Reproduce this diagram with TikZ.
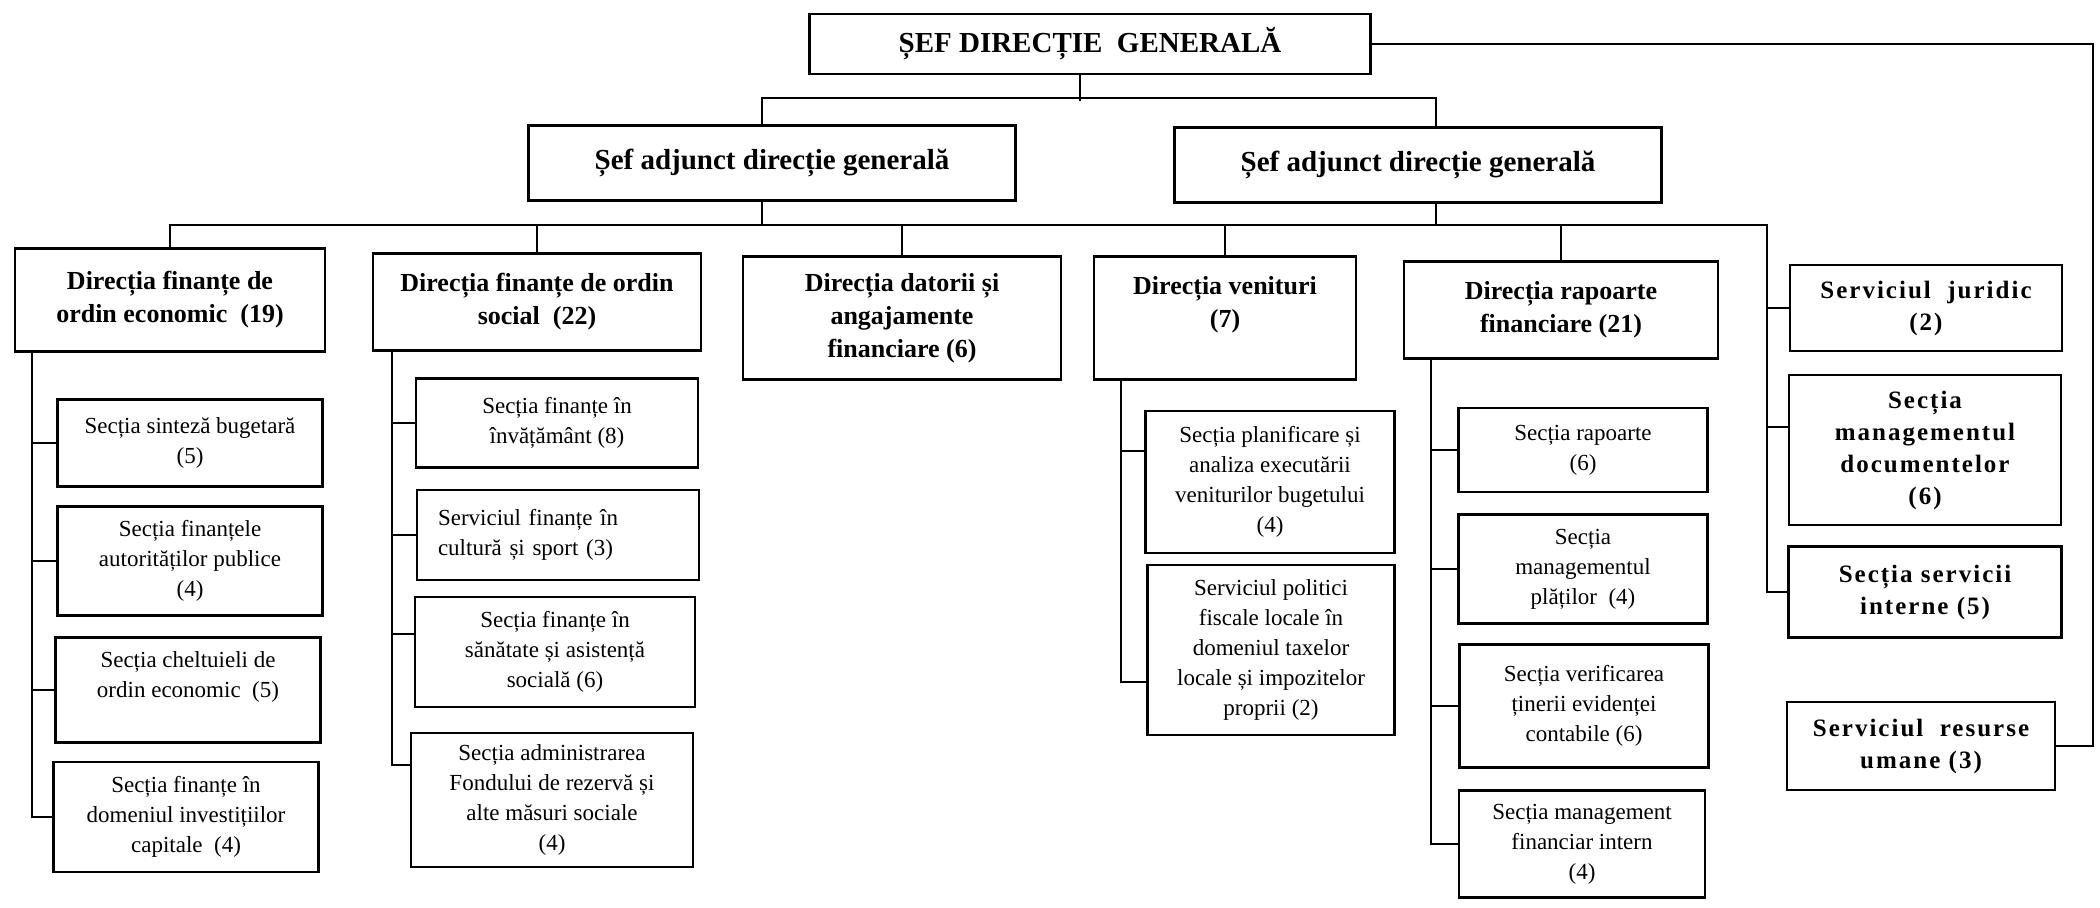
\documentclass[tikz,border=0pt]{standalone}
\usepackage{fontspec}
\setmainfont{Liberation Serif}
\newfontfamily\spacedfont{Liberation Serif}[LetterSpace=8]
\tikzset{
	wh/.style 2 args={minimum width=#1*0.5pt,minimum height=#2*0.5pt},
	chief/.style={draw,line width=1.4pt,inner sep=0pt,font=\fontsize{14.5}{17}\selectfont\bfseries},
	deputy/.style={draw,line width=1.4pt,inner sep=0pt,font=\fontsize{14.5}{17}\selectfont\bfseries},
	dir/.style={draw,line width=1.3pt,inner sep=0pt,align=center,font=\fontsize{13}{16.5}\selectfont\bfseries},
	sec/.style={draw,line width=1.1pt,inner sep=0pt,align=center,font=\fontsize{11.5}{15}\selectfont},
	srv/.style={draw,line width=1.3pt,inner sep=0pt,align=center,font=\fontsize{12.5}{16}\spacedfont\bfseries}
}

\begin{document}
\begin{tikzpicture}[x=0.5pt,y=-0.5pt,line width=1pt]
	\useasboundingbox (0,0) rectangle (2100,907);

	\node [chief,wh={561}{60}] (gen) at (1090,44) {ȘEF DIRECȚIE\ \ GENERALĂ};
	\node [deputy,wh={487}{75}] (dep1) at (772,163) {Șef adjunct direcție generală};
	\node [deputy,wh={487}{75}] (dep2) at (1418,165) {Șef adjunct direcție generală};

	\node [dir,wh={310}{103}] (d1) at (170,300) {Direcția finanțe de\\ordin economic\ \ (19)};
	\node [dir,wh={328}{97}] (d2) at (537,302) {Direcția finanțe de ordin\\social\ \ (22)};
	\node [dir,wh={318}{123}] (d3) at (902,318) {Direcția datorii și\\angajamente\\financiare (6)};
	\node [dir,wh={262}{123}] (d4) at (1225,318) {Direcția venituri\\(7)\\\mbox{}};
	\node [dir,wh={314}{97}] (d5) at (1561,310) {Direcția rapoarte\\financiare (21)};

	\node [sec,wh={265}{87}] (s11) at (190,443) {Secția sinteză bugetară\\(5)};
	\node [sec,wh={265}{109}] (s12) at (190,561) {Secția finanțele\\autorităților publice\\(4)};
	\node [sec,wh={265}{105}] (s13) at (188,690) {Secția cheltuieli de\\ordin economic\ \ (5)\\\mbox{}};
	\node [sec,wh={265}{110}] (s14) at (186,817) {Secția finanțe în\\domeniul investițiilor\\capitale\ \ (4)};

	\node [sec,wh={282}{89}] (s21) at (557,423) {Secția finanțe în\\învățământ (8)};
	\node [sec,wh={282}{90},align=left,text width=120pt,inner xsep=10.5pt] (s22) at (558,535) {Serviciul finanțe în\\cultură și sport (3)};
	\node [sec,wh={280}{110}] (s23) at (555,652) {Secția finanțe în\\sănătate și asistență\\socială (6)};
	\node [sec,wh={282}{134}] (s24) at (552,800) {Secția administrarea\\Fondului de rezervă și\\alte măsuri sociale\\(4)};

	\node [sec,wh={249}{142}] (s41) at (1270,482) {Secția planificare și\\analiza executării\\veniturilor bugetului\\(4)};
	\node [sec,wh={247}{170}] (s42) at (1271,650) {Serviciul politici\\fiscale locale în\\domeniul taxelor\\locale și impozitelor\\proprii (2)};

	\node [sec,wh={249}{84}] (s51) at (1583,450) {Secția rapoarte\\(6)};
	\node [sec,wh={249}{109}] (s52) at (1583,569) {Secția\\managementul\\plăților\ \ (4)};
	\node [sec,wh={249}{123}] (s53) at (1584,706) {Secția verificarea\\ținerii evidenței\\contabile (6)};
	\node [sec,wh={246}{107}] (s54) at (1582,844) {Secția management\\financiar intern\\(4)};

	\node [srv,wh={272}{86}] (s61) at (1926,308) {Serviciul\ \ juridic\\(2)};
	\node [srv,wh={272}{150}] (s62) at (1925,450) {Secția\\managementul\\documentelor\\(6)};
	\node [srv,wh={273}{91}] (s63) at (1925,592) {Secția servicii\\interne (5)};
	\node [srv,wh={268}{88}] (s64) at (1921,746) {Serviciul\ \ resurse\\umane (3)};

	\coordinate (tb) at ([xshift=-5pt,yshift=13pt]dep1.north);
	\coordinate (tr) at ([xshift=9pt]dep2.north);
	\draw ([xshift=-5pt]dep1.north) -- (tb) -- (tb -| tr) -- (tr);
	\draw (gen.south) ++(-5pt,0) -- +(0,-13pt);
	\coordinate (rc) at (2093,44);
	\draw (gen.east) -- (rc) |- (s64.east);

	\coordinate (c6) at (1767,225);
	\draw (d1.north) |- (c6) |- (s63.west);
	\foreach \n in {d2,d3,d4,d5} \draw (\n.north) -- (\n.north |- c6);
	\draw ([xshift=-5pt]dep1.south) -- +(0,-12pt);
	\draw ([xshift=9pt]dep2.south) -- +(0,-11pt);
	\draw (c6) |- (s61.west);
	\draw (c6) |- ([yshift=11.5pt]s62.west);

	\coordinate (c1) at ([xshift=9pt]d1.south west);
	\foreach \n in {s11,s12,s13,s14} \draw (c1) |- (\n.west);
	\coordinate (c2) at ([xshift=10pt]d2.south west);
	\foreach \n in {s21,s22} \draw (c2) |- (\n.west);
	\draw (c2) |- ([yshift=9pt]s23.west);
	\draw (c2) |- ([yshift=17.5pt]s24.west);
	\coordinate (c4) at ([xshift=14pt]d4.south west);
	\draw (c4) |- ([yshift=15.5pt]s41.west);
	\draw (c4) |- ([yshift=-16pt]s42.west);
	\coordinate (c5) at ([xshift=14pt]d5.south west);
	\foreach \n in {s51,s52,s53,s54} \draw (c5) |- (\n.west);
\end{tikzpicture}
\end{document}
